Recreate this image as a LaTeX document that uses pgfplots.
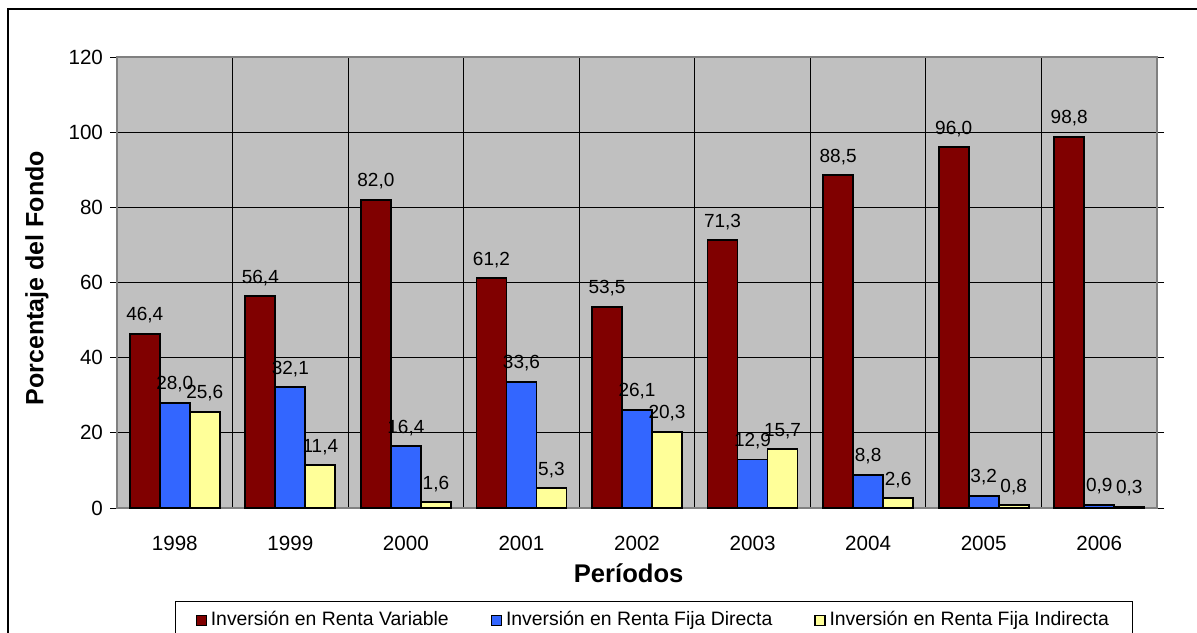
\documentclass[border=0pt]{standalone}
\usepackage{fontspec}
\setmainfont{Liberation Sans}
\usepackage{pgfplots}
\pgfplotsset{compat=1.18}
\definecolor{cRed}{HTML}{800000}
\definecolor{cBlue}{HTML}{3366FF}
\definecolor{cYel}{HTML}{FFFF99}
\definecolor{cBg}{HTML}{C0C0C0}
\definecolor{cAx}{HTML}{808080}
\begin{document}
\begin{tikzpicture}
\clip (0,0) rectangle (598.5pt,-316pt);
\draw[line width=0.7pt] (4pt,-4.5pt) rectangle (640pt,-360pt);
\begin{axis}[
  at={(58.5pt,-254pt)}, anchor=south west,
  width=520pt, height=225.5pt, scale only axis,
  xmin=-0.5, xmax=8.5, ymin=0, ymax=120,
  ytick={0,20,...,120},
  xtick={0,...,8},
  xticklabels={1998,1999,2000,2001,2002,2003,2004,2005,2006},
  minor xtick={-0.5,0.5,...,8.5},
  xminorgrids, ymajorgrids,
  major grid style={black, line width=0.5pt},
  minor grid style={black, line width=0.5pt},
  tick align=outside,
  major tick length=3.5pt, minor tick length=3.5pt,
  xtick style={draw=none},
  minor x tick style={black, line width=0.5pt},
  ytick style={black, line width=0.5pt},
  axis line style={cAx, line width=0.8pt},
  axis background/.style={fill=cBg},
  ticklabel style={font=\fontsize{10.3}{12}\selectfont},
  xticklabel style={yshift=-7pt},
  /pgf/number format/assume math mode=true,
  xlabel={Períodos},
  ylabel={Porcentaje del Fondo},
  xlabel style={font=\bfseries\fontsize{12.8}{15}\selectfont, at={(axis description cs:0.492,-0.144)}, anchor=center},
  ylabel style={font=\bfseries\fontsize{12.5}{15}\selectfont, at={(axis description cs:-0.077,0.51)}, anchor=center},
  ybar=0pt, bar width=15pt,
  nodes near coords,
  every node near coord/.append style={font=\fontsize{9.5}{11}\selectfont, black, yshift=1.5pt},
  nodes near coords style={/pgf/number format/.cd, fixed, fixed zerofill, precision=1, use comma, assume math mode=true},
  legend columns=3,
  legend style={at={(axis description cs:0.0558,-0.206)}, anchor=north west,
    draw=black, fill=white, line width=0.6pt,
    font=\fontsize{9.7}{11}\selectfont,
    inner xsep=10pt, inner ysep=3pt,
    /tikz/every odd column/.append style={column sep=0pt},
    /tikz/every even column/.append style={column sep=19pt}},
  legend image code/.code={\draw[#1, line width=0.6pt] (0pt,-2.5pt) rectangle (5pt,2.5pt);},
]
\addplot[draw=black, line width=0.9pt, fill=cRed] coordinates {(0,46.4) (1,56.4) (2,82.0) (3,61.2) (4,53.5) (5,71.3) (6,88.5) (7,96.0) (8,98.8)};
\addplot[draw=black, line width=0.9pt, fill=cBlue] coordinates {(0,28.0) (1,32.1) (2,16.4) (3,33.6) (4,26.1) (5,12.9) (6,8.8) (7,3.2) (8,0.9)};
\addplot[draw=black, line width=0.9pt, fill=cYel] coordinates {(0,25.6) (1,11.4) (2,1.6) (3,5.3) (4,20.3) (5,15.7) (6,2.6) (7,0.8) (8,0.3)};
\legend{Inversión en Renta Variable, Inversión en Renta Fija Directa, Inversión en Renta Fija Indirecta}
\end{axis}
\end{tikzpicture}
\end{document}
